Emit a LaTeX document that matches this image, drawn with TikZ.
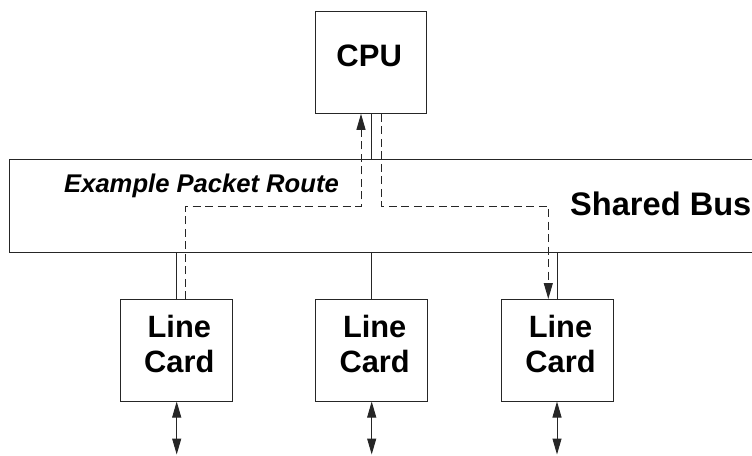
\documentclass[tikz,border=0pt]{standalone}
\usepackage{fontspec}
\setmainfont{Liberation Sans}
\usetikzlibrary{arrows.meta}
\begin{document}
\begin{tikzpicture}[x=1pt,y=-1pt,
  box/.style={draw=black!85, line width=1pt, minimum width=111.6pt, minimum height=102pt, inner sep=0pt},
  busbox/.style={draw=black!85, line width=1pt, minimum width=780pt, minimum height=92.7pt, inner sep=0pt, anchor=north west},
  lbl/.style={inner sep=0pt, font=\fontsize{31}{35}\selectfont\bfseries},
  cardlbl/.style={inner sep=0pt, align=center, font=\fontsize{30.8}{35}\selectfont\bfseries},
  routelbl/.style={inner sep=0pt, font=\fontsize{25.6}{30}\selectfont\bfseries\itshape},
  wire/.style={draw=black!85, line width=1pt},
  route/.style={draw=black!85, line width=1pt, dash pattern=on 8pt off 4.5pt},
  tip/.style={-{Triangle[length=16pt,width=9pt]}},
  io/.style={wire, {Triangle[length=16pt,width=9pt]}-{Triangle[length=16pt,width=9pt]}}
]
\useasboundingbox (0,0) rectangle (752,455);
\clip (0,0) rectangle (752,455);

% CPU and the shared bus
\node[box, minimum width=111.7pt, minimum height=101.6pt] (cpu) at (371,62.5) {};
\node[lbl, anchor=base] (cpulbl) at (369.2,66.7) {CPU};
\node[busbox] (bus) at (8.7,159.3) {};
\node[lbl, font=\fontsize{32.6}{36}\selectfont\bfseries, anchor=base west] (buslbl) at (570,215) {Shared Bus};
\node[routelbl, anchor=base] (routelbl) at (201.5,192.7) {Example Packet Route};

% line cards
\node[box] (lc1) at (176.5,350.5) {};
\node[box] (lc2) at (371.5,350.5) {};
\node[box] (lc3) at (557.3,350.5) {};
\node[cardlbl, anchor=base] (lc1lbl) at (179.3,372.7) {Line\\Card};
\node[cardlbl, anchor=base] (lc2lbl) at (374.7,372.7) {Line\\Card};
\node[cardlbl, anchor=base] (lc3lbl) at (560.5,372.7) {Line\\Card};

% bus taps
\draw[wire] (lc1.north -| 176.7,0) -- (176.7,252);
\draw[wire] (cpu.south) -- (cpu.south |- bus.north);
\draw[wire] (lc2.north) -- (lc2.north |- bus.south);
\draw[wire] (557,299.5) -- (557,252);

% external ports
\coordinate (p1) at (176.7,454.5);
\coordinate (p2) at (371.7,454.5);
\coordinate (p3) at (557,454.5);
\draw[io] (176.7,401.5) -- (p1);
\draw[io] (371.7,401.5) -- (p2);
\draw[io] (557,401.5) -- (p3);

% example packet route
\coordinate (r1) at (185.7,206);
\coordinate (r2) at (361,206);
\coordinate (r3) at (381,206);
\coordinate (r4) at (548.3,206);
\draw[route, tip] (lc1.north -| r1) -- (r1) -- (r2) -- (r2 |- cpu.south);
\draw[route, tip] (cpu.south -| r3) -- (r3) -- (r4) -- (r4 |- lc3.north);
\end{tikzpicture}
\end{document}
